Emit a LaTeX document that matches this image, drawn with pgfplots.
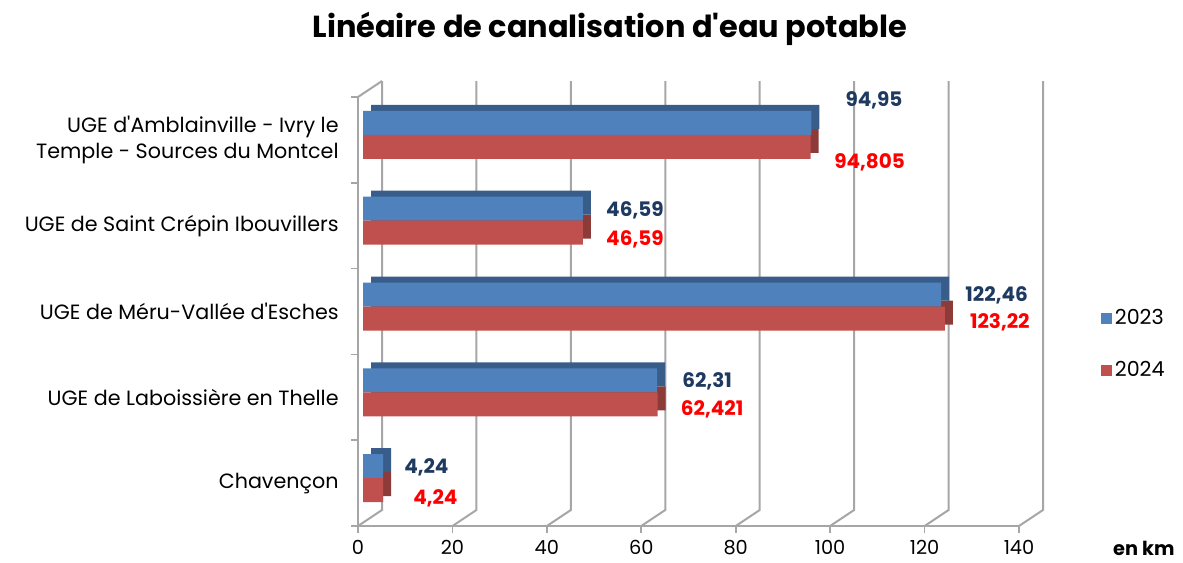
\documentclass[border=0pt]{standalone}
\usepackage{fontspec}
\setmainfont{Poppins}[Ligatures=TeXOff]
\usepackage{pgfplots}
\usepackage{pgfplotstable}
\pgfplotsset{compat=1.18}

\definecolor{bleu}{HTML}{4F81BD}
\definecolor{bleufonce}{HTML}{385D8A}
\definecolor{rouge}{HTML}{C0504D}
\definecolor{rougefonce}{HTML}{8C3B39}
\definecolor{etiqbleu}{HTML}{1F3A60}
\definecolor{grille}{HTML}{A6A6A6}

% y = position de la categorie (0 = Chavencon, en bas)
\pgfplotstableread{
y x lab dx dy
4 94.95 94,95 25.5 30
3 46.59 46,59 17.25 11.25
2 122.46 122,46 18 12
1 62.31 62,31 18.75 12
0 4.24 4,24 15.75 12
}\donnees

\pgfplotstableread{
y x lab dx dy
4 94.805 94,805 17.6 -16.5
3 46.59 46,59 17.25 -10.5
2 123.22 123,22 18.75 -8.25
1 62.421 62,421 17.25 -9
0 4.24 4,24 22.5 -11.25
}\donneesb

\begin{document}
\begin{tikzpicture}
\begin{axis}[
    at={(268.5pt,27pt)}, anchor=south west,
    scale only axis, width=495.75pt, height=321.75pt,
    set layers, clip=false,
    xmin=0, xmax=140, ymin=-0.5, ymax=4.5,
    axis x line*=bottom, axis y line*=left,
    axis line style={draw=grille, line width=1.5pt},
    xtick={0,20,...,140},
    ytick={-0.5,0.5,...,4.5}, yticklabels={},
    extra y ticks={0,1,2,3,4},
    extra y tick labels={Chavençon, UGE de Laboissière en Thelle, UGE de Méru-Vallée d'Esches, UGE de Saint Crépin Ibouvillers, {UGE d'Amblainville - Ivry le\\Temple - Sources du Montcel}},
    extra y tick style={major tick length=0pt},
    tick align=outside, major tick length=5pt,
    tick style={draw=grille, line width=1.2pt},
    /pgf/number format/assume math mode=true,
    tick label style={font=\fontsize{15.5}{19.5}\selectfont},
    xticklabel style={font=\fontsize{14.5}{17}\selectfont, yshift=-2.5pt},
    yticklabel style={align=right, xshift=-11pt},
    xbar, bar width=18pt,
    legend style={draw=none, fill=none, at={(1.118,0.424)}, anchor=west,
        row sep=22pt, font=\fontsize{15.5}{19}\selectfont},
    legend cell align=left,
    legend image code/.code={\fill[#1] (0pt,-4.1pt) rectangle (8.2pt,4.1pt);},
    nodes near coords, point meta=explicit symbolic,
    visualization depends on={\thisrow{dx} \as \dx},
    visualization depends on={\thisrow{dy} \as \dy},
    every node near coord/.style={anchor=west, inner sep=0pt,
        xshift=\dx pt, yshift=\dy pt, font=\bfseries\fontsize{15}{18}\selectfont},
]
\begin{pgfonlayer}{axis background}
\pgfplotsinvokeforeach{0,20,...,140}{
  \draw[grille, line width=1.5pt] (axis cs:#1,-0.5) -- ([shift={(18pt,12pt)}]axis cs:#1,-0.5) -- ([shift={(18pt,12pt)}]axis cs:#1,4.5);
}
\draw[grille, line width=1.5pt] (axis cs:0,4.5) -- ([shift={(18pt,12pt)}]axis cs:0,4.5);
\end{pgfonlayer}

% faces de profondeur
\addplot[forget plot, fill=rougefonce, draw=none, bar shift=-0.75pt, xshift=9.75pt, nodes near coords={}]
    table[x=x, y=y, meta=lab]{\donneesb};
\addplot[forget plot, fill=bleufonce, draw=none, bar shift=17.25pt, xshift=9.75pt, nodes near coords={}]
    table[x=x, y=y, meta=lab]{\donnees};
% faces avant
\addplot[fill=bleu, draw=none, bar shift=12.75pt, xshift=3.75pt,
    every node near coord/.append style={text=etiqbleu}]
    table[x=x, y=y, meta=lab]{\donnees};
\addplot[fill=rouge, draw=none, bar shift=-5.25pt, xshift=3.75pt,
    every node near coord/.append style={text=red}]
    table[x=x, y=y, meta=lab]{\donneesb};
\legend{2023, 2024}

\node[font=\bfseries\fontsize{22.8}{27}\selectfont] at (rel axis cs:0.381,1.158) {Linéaire de canalisation d'eau potable};
\node[font=\bfseries\fontsize{14.5}{17}\selectfont] at (rel axis cs:1.189,-0.052) {en km};
\end{axis}
\pgfresetboundingbox
\path[use as bounding box] (0,0) rectangle (887.25pt,421.5pt);
\end{tikzpicture}
\end{document}
